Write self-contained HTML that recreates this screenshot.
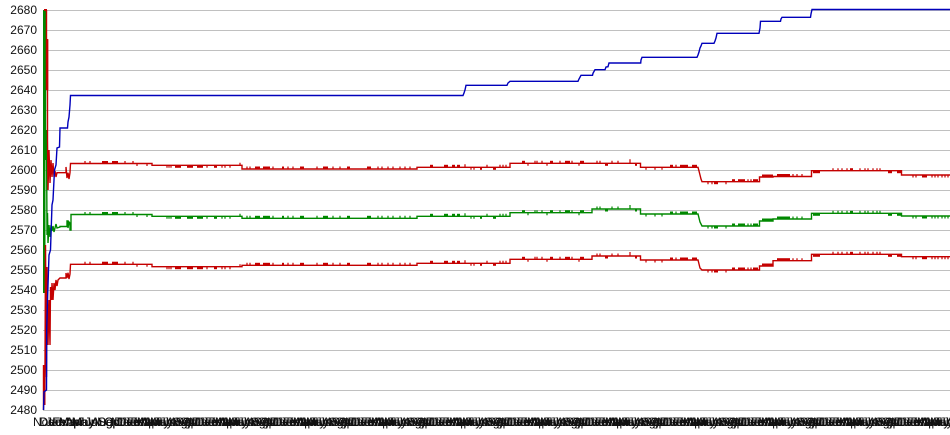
<!DOCTYPE html>
<html><head><meta charset="utf-8"><style>html,body{margin:0;padding:0;background:#fff;}svg{display:block}</style></head>
<body>
<svg width="950" height="435" viewBox="0 0 950 435" xmlns="http://www.w3.org/2000/svg" xmlns:xlink="http://www.w3.org/1999/xlink">
<rect width="950" height="435" fill="#fff"/>
<defs>
<g id="sA" stroke="currentColor" fill="currentColor" stroke-width="1.2">
<path d="M85 0v-2.5M90 0v-2.5M103 0v-2.5M105 0v-2.5M107 0v-2.5M113 0v-2.5M115 0v-2.5M117 0v-2.5M125 0v-2.5M133 0v-2.5M137 0v2.5M147 0v2.5"/>
<rect x="102" y="-2.5" width="6" height="2.5" stroke="none"/><rect x="112" y="-2.5" width="6" height="2.5" stroke="none"/>
</g>
<g id="sB" stroke="currentColor" fill="currentColor" stroke-width="1.2">
<path d="M167 0v2.5M169 0v2.5M171 0v2.5M207 0v2.5M222 0v2.5M225 0v2.5M230 0v2.5M240 0v-2.5"/>
<rect x="175" y="0" width="6" height="2.5" stroke="none"/><rect x="187" y="0" width="6" height="2.5" stroke="none"/><rect x="197" y="0" width="6" height="2.5" stroke="none"/><rect x="214" y="0" width="3" height="2.5" stroke="none"/>
</g>
<g id="sC" stroke="currentColor" fill="currentColor" stroke-width="1.2">
<path d="M247 0v-2.5M250 0v-2.5M273 0v-2.5M288 0v-2.5M293 0v-2.5M317 0v-2.5M333 0v-2.5M340 0v-2.5M378 0v-2.5M382 0v-2.5M388 0v-2.5M393 0v-2.5M400 0v-2.5M405 0v-2.5M410 0v-2.5"/>
<rect x="255" y="-2.5" width="5" height="2.5" stroke="none"/><rect x="263" y="-2.5" width="7" height="2.5" stroke="none"/><rect x="282" y="-2.5" width="2" height="2.5" stroke="none"/><rect x="300" y="-2.5" width="4" height="2.5" stroke="none"/><rect x="323" y="-2.5" width="5" height="2.5" stroke="none"/><rect x="347" y="-2.5" width="3" height="2.5" stroke="none"/><rect x="367" y="-2.5" width="4" height="2.5" stroke="none"/>
</g>
<g id="sD" stroke="currentColor" fill="currentColor" stroke-width="1.2">
<path d="M465 0v-3M471 0v2.5M474 0v2.5M487 0v-2.5M500 0v-2.5M503 0v-2.5M506 0v-2.5"/>
<rect x="430" y="-2.5" width="3" height="2.5" stroke="none"/><rect x="444" y="-2.5" width="4" height="2.5" stroke="none"/><rect x="452" y="-2.5" width="3" height="2.5" stroke="none"/><rect x="457" y="-2.5" width="3" height="2.5" stroke="none"/><rect x="480" y="0" width="2" height="2.5" stroke="none"/><rect x="493" y="0" width="3" height="2.5" stroke="none"/>
</g>
<g id="sE" stroke="currentColor" fill="currentColor" stroke-width="1.2">
<path d="M528 0v2.5M535 0v-2.5M537 0v-2.5M542 0v-2.5M547 0v2.5M560 0v-2.5M572 0v-2.5M579 0v2.5"/>
<rect x="522" y="-2.5" width="3" height="2.5" stroke="none"/><rect x="550" y="-2.5" width="3" height="2.5" stroke="none"/><rect x="565" y="-2.5" width="5" height="2.5" stroke="none"/><rect x="580" y="-2.5" width="4" height="2.5" stroke="none"/>
</g>
<g id="sF" stroke="currentColor" fill="currentColor" stroke-width="1.2">
<path d="M597 0v-2.5M600 0v-2.5M612 0v-2.5M618 0v-2.5M630 0v-4"/>
<rect x="605" y="0" width="3" height="2.5" stroke="none"/><rect x="635" y="0" width="2" height="2.5" stroke="none"/>
</g>
<g id="sG" stroke="currentColor" fill="currentColor" stroke-width="1.2">
<path d="M646 0v2.5M655 0v2.5M662 0v2.5M676 0v-2.5"/>
<rect x="670" y="-2.5" width="3" height="2.5" stroke="none"/><rect x="680" y="-2.5" width="8" height="2.5" stroke="none"/><rect x="692" y="-2.5" width="5" height="2.5" stroke="none"/>
</g>
<g id="sH" stroke="currentColor" fill="currentColor" stroke-width="1.2">
<path d="M708 0v2.5M712 0v2.5M726 0v2.5M748 0v-2.5M751 0v-2.5"/>
<rect x="714" y="0" width="4" height="2.5" stroke="none"/><rect x="732" y="-2.5" width="3" height="2.5" stroke="none"/><rect x="738" y="-2.5" width="7" height="2.5" stroke="none"/><rect x="753" y="-2.5" width="5" height="2.5" stroke="none"/>
</g>
<g id="sI" fill="currentColor"><rect x="762" y="-2.5" width="11" height="2.5"/></g>
<g id="sJ" stroke="currentColor" fill="currentColor" stroke-width="1.2">
<path d="M793 0v-2.5M797 0v-2.5M802 0v-2.5"/>
<rect x="777" y="-2.5" width="13" height="2.5" stroke="none"/>
</g>
<g id="sK" stroke="currentColor" fill="currentColor" stroke-width="1.2">
<path d="M833 0v-2.5M838 0v-2.5M842 0v-2.5M847 0v-2.5M860 0v-2.5M865 0v-2.5M868 0v-2.5M873 0v-2.5M877 0v-2.5M880 0v-2.5"/>
<rect x="813" y="0" width="7" height="2.5" stroke="none"/><rect x="850" y="-2.5" width="3" height="2.5" stroke="none"/><rect x="888" y="0" width="4" height="2.5" stroke="none"/><rect x="897" y="0" width="5" height="2.5" stroke="none"/>
</g>
<g id="sL" stroke="currentColor" fill="currentColor" stroke-width="1.2">
<path d="M913 0v2.5M916 0v2.5M932 0v2.5M935 0v2.5M938 0v2.5M942 0v2.5M945 0v2.5M948 0v2.5"/>
<rect x="922" y="0" width="5" height="2.5" stroke="none"/>
</g>
</defs>

<path stroke="#c0c0c0" stroke-width="1" shape-rendering="crispEdges" fill="none" d="M43 10.5H950M43 30.5H950M43 50.5H950M43 70.5H950M43 90.5H950M43 110.5H950M43 130.5H950M43 150.5H950M43 170.5H950M43 190.5H950M43 210.5H950M43 230.5H950M43 250.5H950M43 270.5H950M43 290.5H950M43 310.5H950M43 330.5H950M43 350.5H950M43 370.5H950M43 390.5H950M43 410.5H950"/>

<g font-family="'Liberation Sans', Arial, sans-serif" font-size="12" fill="#111" text-anchor="end">
<text x="37" y="14">2680</text><text x="37" y="34">2670</text><text x="37" y="54">2660</text><text x="37" y="74">2650</text><text x="37" y="94">2640</text><text x="37" y="114">2630</text><text x="37" y="134">2620</text><text x="37" y="154">2610</text><text x="37" y="174">2600</text><text x="37" y="194">2590</text><text x="37" y="214">2580</text><text x="37" y="234">2570</text><text x="37" y="254">2560</text><text x="37" y="274">2550</text><text x="37" y="294">2540</text><text x="37" y="314">2530</text><text x="37" y="334">2520</text><text x="37" y="354">2510</text><text x="37" y="374">2500</text><text x="37" y="394">2490</text><text x="37" y="414">2480</text>
</g>

<g font-family="'Liberation Sans', Arial, sans-serif" font-size="12" fill="#111">
<text y="426"><tspan x="33">Nov</tspan><tspan x="39.5">Dec</tspan><tspan x="46">Jan</tspan><tspan x="52.5">Feb</tspan><tspan x="59">Mar</tspan><tspan x="65.5">Apr</tspan><tspan x="72">May</tspan><tspan x="78.5">Jun</tspan><tspan x="85">Jul</tspan><tspan x="91.5">Aug</tspan><tspan x="98">Sep</tspan><tspan x="104.5">Oct</tspan></text>
<text y="426"><tspan x="111">Nov</tspan><tspan x="117.5">Dec</tspan><tspan x="124">Jan</tspan><tspan x="130.5">Feb</tspan><tspan x="137">Mar</tspan><tspan x="143.5">Apr</tspan><tspan x="150">May</tspan><tspan x="156.5">Jun</tspan><tspan x="163">Jul</tspan><tspan x="169.5">Aug</tspan><tspan x="176">Sep</tspan><tspan x="182.5">Oct</tspan></text>
<text y="426"><tspan x="189">Nov</tspan><tspan x="195.5">Dec</tspan><tspan x="202">Jan</tspan><tspan x="208.5">Feb</tspan><tspan x="215">Mar</tspan><tspan x="221.5">Apr</tspan><tspan x="228">May</tspan><tspan x="234.5">Jun</tspan><tspan x="241">Jul</tspan><tspan x="247.5">Aug</tspan><tspan x="254">Sep</tspan><tspan x="260.5">Oct</tspan></text>
<text y="426"><tspan x="267">Nov</tspan><tspan x="273.5">Dec</tspan><tspan x="280">Jan</tspan><tspan x="286.5">Feb</tspan><tspan x="293">Mar</tspan><tspan x="299.5">Apr</tspan><tspan x="306">May</tspan><tspan x="312.5">Jun</tspan><tspan x="319">Jul</tspan><tspan x="325.5">Aug</tspan><tspan x="332">Sep</tspan><tspan x="338.5">Oct</tspan></text>
<text y="426"><tspan x="345">Nov</tspan><tspan x="351.5">Dec</tspan><tspan x="358">Jan</tspan><tspan x="364.5">Feb</tspan><tspan x="371">Mar</tspan><tspan x="377.5">Apr</tspan><tspan x="384">May</tspan><tspan x="390.5">Jun</tspan><tspan x="397">Jul</tspan><tspan x="403.5">Aug</tspan><tspan x="410">Sep</tspan><tspan x="416.5">Oct</tspan></text>
<text y="426"><tspan x="423">Nov</tspan><tspan x="429.5">Dec</tspan><tspan x="436">Jan</tspan><tspan x="442.5">Feb</tspan><tspan x="449">Mar</tspan><tspan x="455.5">Apr</tspan><tspan x="462">May</tspan><tspan x="468.5">Jun</tspan><tspan x="475">Jul</tspan><tspan x="481.5">Aug</tspan><tspan x="488">Sep</tspan><tspan x="494.5">Oct</tspan></text>
<text y="426"><tspan x="501">Nov</tspan><tspan x="507.5">Dec</tspan><tspan x="514">Jan</tspan><tspan x="520.5">Feb</tspan><tspan x="527">Mar</tspan><tspan x="533.5">Apr</tspan><tspan x="540">May</tspan><tspan x="546.5">Jun</tspan><tspan x="553">Jul</tspan><tspan x="559.5">Aug</tspan><tspan x="566">Sep</tspan><tspan x="572.5">Oct</tspan></text>
<text y="426"><tspan x="579">Nov</tspan><tspan x="585.5">Dec</tspan><tspan x="592">Jan</tspan><tspan x="598.5">Feb</tspan><tspan x="605">Mar</tspan><tspan x="611.5">Apr</tspan><tspan x="618">May</tspan><tspan x="624.5">Jun</tspan><tspan x="631">Jul</tspan><tspan x="637.5">Aug</tspan><tspan x="644">Sep</tspan><tspan x="650.5">Oct</tspan></text>
<text y="426"><tspan x="657">Nov</tspan><tspan x="663.5">Dec</tspan><tspan x="670">Jan</tspan><tspan x="676.5">Feb</tspan><tspan x="683">Mar</tspan><tspan x="689.5">Apr</tspan><tspan x="696">May</tspan><tspan x="702.5">Jun</tspan><tspan x="709">Jul</tspan><tspan x="715.5">Aug</tspan><tspan x="722">Sep</tspan><tspan x="728.5">Oct</tspan></text>
<text y="426"><tspan x="735">Nov</tspan><tspan x="741.5">Dec</tspan><tspan x="748">Jan</tspan><tspan x="754.5">Feb</tspan><tspan x="761">Mar</tspan><tspan x="767.5">Apr</tspan><tspan x="774">May</tspan><tspan x="780.5">Jun</tspan><tspan x="787">Jul</tspan><tspan x="793.5">Aug</tspan><tspan x="800">Sep</tspan><tspan x="806.5">Oct</tspan></text>
<text y="426"><tspan x="813">Nov</tspan><tspan x="819.5">Dec</tspan><tspan x="826">Jan</tspan><tspan x="832.5">Feb</tspan><tspan x="839">Mar</tspan><tspan x="845.5">Apr</tspan><tspan x="852">May</tspan><tspan x="858.5">Jun</tspan><tspan x="865">Jul</tspan><tspan x="871.5">Aug</tspan><tspan x="878">Sep</tspan><tspan x="884.5">Oct</tspan></text>
<text y="426"><tspan x="891">Nov</tspan><tspan x="897.5">Dec</tspan><tspan x="904">Jan</tspan><tspan x="910.5">Feb</tspan><tspan x="917">Mar</tspan><tspan x="923.5">Apr</tspan><tspan x="930">May</tspan><tspan x="936.5">Jun</tspan><tspan x="943">Jul</tspan></text>
</g>
<g font-family="'Liberation Sans', Arial, sans-serif" font-size="12" fill="#111" transform="translate(3.25,0)">
<text y="426"><tspan x="36">Dec</tspan><tspan x="42.5">Jan</tspan><tspan x="49">Feb</tspan><tspan x="55.5">Mar</tspan><tspan x="62">Apr</tspan><tspan x="68.5">May</tspan><tspan x="75">Jun</tspan><tspan x="81.5">Jul</tspan><tspan x="88">Aug</tspan><tspan x="94.5">Sep</tspan><tspan x="101">Oct</tspan></text>
<text y="426"><tspan x="111">Dec</tspan><tspan x="117.5">Jan</tspan><tspan x="124">Feb</tspan><tspan x="130.5">Mar</tspan><tspan x="137">Apr</tspan><tspan x="143.5">May</tspan><tspan x="150">Jun</tspan><tspan x="156.5">Jul</tspan><tspan x="163">Aug</tspan><tspan x="169.5">Sep</tspan><tspan x="176">Oct</tspan><tspan x="182.5">Nov</tspan></text>
<text y="426"><tspan x="189">Dec</tspan><tspan x="195.5">Jan</tspan><tspan x="202">Feb</tspan><tspan x="208.5">Mar</tspan><tspan x="215">Apr</tspan><tspan x="221.5">May</tspan><tspan x="228">Jun</tspan><tspan x="234.5">Jul</tspan><tspan x="241">Aug</tspan><tspan x="247.5">Sep</tspan><tspan x="254">Oct</tspan><tspan x="260.5">Nov</tspan></text>
<text y="426"><tspan x="267">Dec</tspan><tspan x="273.5">Jan</tspan><tspan x="280">Feb</tspan><tspan x="286.5">Mar</tspan><tspan x="293">Apr</tspan><tspan x="299.5">May</tspan><tspan x="306">Jun</tspan><tspan x="312.5">Jul</tspan><tspan x="319">Aug</tspan><tspan x="325.5">Sep</tspan><tspan x="332">Oct</tspan><tspan x="338.5">Nov</tspan></text>
<text y="426"><tspan x="345">Dec</tspan><tspan x="351.5">Jan</tspan><tspan x="358">Feb</tspan><tspan x="364.5">Mar</tspan><tspan x="371">Apr</tspan><tspan x="377.5">May</tspan><tspan x="384">Jun</tspan><tspan x="390.5">Jul</tspan><tspan x="397">Aug</tspan><tspan x="403.5">Sep</tspan><tspan x="410">Oct</tspan><tspan x="416.5">Nov</tspan></text>
<text y="426"><tspan x="423">Dec</tspan><tspan x="429.5">Jan</tspan><tspan x="436">Feb</tspan><tspan x="442.5">Mar</tspan><tspan x="449">Apr</tspan><tspan x="455.5">May</tspan><tspan x="462">Jun</tspan><tspan x="468.5">Jul</tspan><tspan x="475">Aug</tspan><tspan x="481.5">Sep</tspan><tspan x="488">Oct</tspan><tspan x="494.5">Nov</tspan></text>
<text y="426"><tspan x="501">Dec</tspan><tspan x="507.5">Jan</tspan><tspan x="514">Feb</tspan><tspan x="520.5">Mar</tspan><tspan x="527">Apr</tspan><tspan x="533.5">May</tspan><tspan x="540">Jun</tspan><tspan x="546.5">Jul</tspan><tspan x="553">Aug</tspan><tspan x="559.5">Sep</tspan><tspan x="566">Oct</tspan><tspan x="572.5">Nov</tspan></text>
<text y="426"><tspan x="579">Dec</tspan><tspan x="585.5">Jan</tspan><tspan x="592">Feb</tspan><tspan x="598.5">Mar</tspan><tspan x="605">Apr</tspan><tspan x="611.5">May</tspan><tspan x="618">Jun</tspan><tspan x="624.5">Jul</tspan><tspan x="631">Aug</tspan><tspan x="637.5">Sep</tspan><tspan x="644">Oct</tspan><tspan x="650.5">Nov</tspan></text>
<text y="426"><tspan x="657">Dec</tspan><tspan x="663.5">Jan</tspan><tspan x="670">Feb</tspan><tspan x="676.5">Mar</tspan><tspan x="683">Apr</tspan><tspan x="689.5">May</tspan><tspan x="696">Jun</tspan><tspan x="702.5">Jul</tspan><tspan x="709">Aug</tspan><tspan x="715.5">Sep</tspan><tspan x="722">Oct</tspan><tspan x="728.5">Nov</tspan></text>
<text y="426"><tspan x="735">Dec</tspan><tspan x="741.5">Jan</tspan><tspan x="748">Feb</tspan><tspan x="754.5">Mar</tspan><tspan x="761">Apr</tspan><tspan x="767.5">May</tspan><tspan x="774">Jun</tspan><tspan x="780.5">Jul</tspan><tspan x="787">Aug</tspan><tspan x="793.5">Sep</tspan><tspan x="800">Oct</tspan><tspan x="806.5">Nov</tspan></text>
<text y="426"><tspan x="813">Dec</tspan><tspan x="819.5">Jan</tspan><tspan x="826">Feb</tspan><tspan x="832.5">Mar</tspan><tspan x="839">Apr</tspan><tspan x="845.5">May</tspan><tspan x="852">Jun</tspan><tspan x="858.5">Jul</tspan><tspan x="865">Aug</tspan><tspan x="871.5">Sep</tspan><tspan x="878">Oct</tspan><tspan x="884.5">Nov</tspan></text>
<text y="426"><tspan x="891">Dec</tspan><tspan x="897.5">Jan</tspan><tspan x="904">Feb</tspan><tspan x="910.5">Mar</tspan><tspan x="917">Apr</tspan><tspan x="923.5">May</tspan><tspan x="930">Jun</tspan><tspan x="936.5">Jul</tspan><tspan x="943">Aug</tspan></text>
</g>

<!-- green -->
<rect x="43" y="10" width="2.5" height="283" fill="#008800"/>
<rect x="45" y="133" width="2" height="27" fill="#008800"/>
<path fill="none" stroke="#008800" stroke-width="1.4" d="M45.5,10 L45.5,160 L46.5,130 L47,235 L47.5,213 L48,243 L49,225 L50,237 L51,225 L52,231 L53,226 L54,232 L55,228 L56,224 L57,228 L60,227 L60,226.5 L67,226.5 L67,221 L68,221 L68,228 L69,222 L70,223 L70,230 L71,230 L71,214.5 L152,214.5 L152,216.3 L242,216.3 L242,218.3 L417,218.3 L417,216.3 L510,216.3 L510,212.7 L592,212.7 L592,209 L640.5,209 L640.5,214 L698,214 L699,218 L700,222 L702,226 L759.5,226 L759.5,221 L773,221 L773,219 L811.5,219 L811.5,213.3 L901.5,213.3 L901.5,216 L950,216"/>

<!-- red lines -->
<rect x="44" y="9" width="3" height="2" fill="#c40000"/>
<rect x="46.3" y="39" width="2" height="51" fill="#c40000"/>
<rect x="43" y="365" width="2.5" height="40" fill="#c40000"/>
<path fill="none" stroke="#c40000" stroke-width="1.4" d="M46.5,10 L46.5,90 L47.5,40 L47.5,140 L48,190 L49,150 L50,183 L51,160 L52,177 L53,163 L54,177 L55,171 L56,177 L57,172.7 L66,172.7 L66,167 L67,178 L68,172.7 L69,179 L70,172.7 L70.5,163.5 L152,163.5 L152,165.3 L242,165.3 L242,169 L417,169 L417,167.3 L510,167.3 L510,163.3 L640.5,163.3 L640.5,167.3 L698,167.3 L699,171 L700,175 L701,179 L702,181.7 L759.5,181.7 L759.5,177 L773,177 L773,176.5 L811.5,176.5 L811.5,170.7 L901.5,170.7 L901.5,175 L950,175"/>
<path fill="none" stroke="#c40000" stroke-width="1.4" d="M43.5,410 L43.5,365 L44.5,405 L45,370 L45.5,245 L46.5,377 L47,267 L48,345 L49,300 L50,345 L50.5,287 L51.5,300 L52,283 L53,300 L54,283 L55,290 L56,280 L57,286 L58,280 L60,278 L66,278 L66,273 L67,278 L68,272.7 L69,279 L70,274 L70.5,264.3 L152,264.3 L152,266.7 L242,266.7 L242,265.3 L417,265.3 L417,263.3 L510,263.3 L510,259.3 L592,259.3 L592,256 L640.5,256 L640.5,260 L698,260 L699,264 L700,268 L702,270 L759.5,270 L759.5,266 L773,266 L773,260.7 L811.5,260.7 L811.5,254.3 L901.5,254.3 L901.5,256.7 L950,256.7"/>

<!-- spikes -->
<g style="color:#c40000">
<use xlink:href="#sA" href="#sA" y="163.5"/><use xlink:href="#sA" href="#sA" y="264.3"/>
<use xlink:href="#sB" href="#sB" y="165.3"/><use xlink:href="#sB" href="#sB" y="266.7"/>
<use xlink:href="#sC" href="#sC" y="169"/><use xlink:href="#sC" href="#sC" y="265.3"/>
<use xlink:href="#sD" href="#sD" y="167.3"/><use xlink:href="#sD" href="#sD" y="263.3"/>
<use xlink:href="#sE" href="#sE" y="163.3"/><use xlink:href="#sE" href="#sE" y="259.3"/>
<use xlink:href="#sF" href="#sF" y="163.3"/><use xlink:href="#sF" href="#sF" y="256"/>
<use xlink:href="#sG" href="#sG" y="167.3"/><use xlink:href="#sG" href="#sG" y="260"/>
<use xlink:href="#sH" href="#sH" y="181.7"/><use xlink:href="#sH" href="#sH" y="270"/>
<use xlink:href="#sI" href="#sI" y="177"/><use xlink:href="#sI" href="#sI" y="266"/>
<use xlink:href="#sJ" href="#sJ" y="176.5"/><use xlink:href="#sJ" href="#sJ" y="260.7"/>
<use xlink:href="#sK" href="#sK" y="170.7"/><use xlink:href="#sK" href="#sK" y="254.3"/>
<use xlink:href="#sL" href="#sL" y="175"/><use xlink:href="#sL" href="#sL" y="256.7"/>
</g>
<g style="color:#008800">
<use xlink:href="#sA" href="#sA" y="214.5"/><use xlink:href="#sB" href="#sB" y="216.3"/><use xlink:href="#sC" href="#sC" y="218.3"/><use xlink:href="#sD" href="#sD" y="216.3"/><use xlink:href="#sE" href="#sE" y="212.7"/><use xlink:href="#sF" href="#sF" y="209"/><use xlink:href="#sG" href="#sG" y="214"/><use xlink:href="#sH" href="#sH" y="226"/><use xlink:href="#sI" href="#sI" y="221"/><use xlink:href="#sJ" href="#sJ" y="219"/><use xlink:href="#sK" href="#sK" y="213.3"/><use xlink:href="#sL" href="#sL" y="216"/>
</g>

<!-- blue -->
<path fill="none" stroke="#0000bb" stroke-width="1.4" d="M43.5,410 L44,392 L46.5,390 L46.7,330 L47.5,300 L49,255 L50.5,250 L52,205 L53,200 L54.5,170 L56,165 L57,148 L59.5,147 L60,128 L67.5,128 L68,122 L69,117 L70,105 L70.5,95.5 L463,95.5 L464,93 L465,90 L466,85.3 L507,85.3 L508,83 L510,81.3 L578,81.3 L579,79 L581,75.3 L592.5,75.3 L593,73.3 L595,69.7 L605,69.7 L606,67 L608,66.7 L609,63 L640.7,63 L641,60 L642,57.3 L697,57.3 L698,55 L699,52 L700,48 L701,46 L702,43.3 L714,43.3 L715,41 L716,38 L717,33.3 L759,33.3 L760,28 L760.5,21.3 L780.5,21.3 L781,19 L782,17.3 L810.5,17.3 L811,14 L812,9.5 L950,9.5"/>
</svg>
</body></html>
